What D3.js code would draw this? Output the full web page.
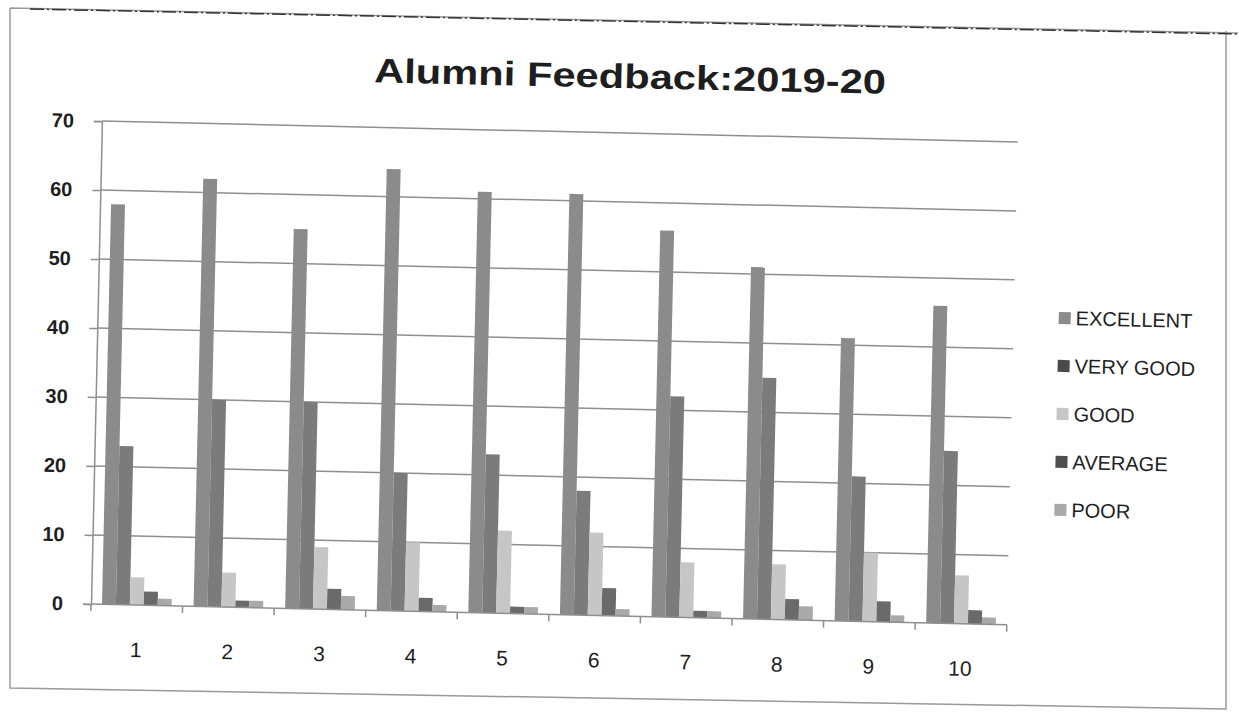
<!DOCTYPE html>
<html>
<head>
<meta charset="utf-8">
<script src="https://cdnjs.cloudflare.com/ajax/libs/d3/7.8.5/d3.min.js"></script>
<style>
  body { margin: 0; background: #fff; }
  text { font-family: "Liberation Sans", Arial, sans-serif; fill: #1e1e1e; }
</style>
</head>
<body>
<div id="chart"></div>
<script>
// Data
var categories = ["1", "2", "3", "4", "5", "6", "7", "8", "9", "10"];
var seriesNames = ["EXCELLENT", "VERY GOOD", "GOOD", "AVERAGE", "POOR"];
var excellent = [58, 62, 55, 64, 61, 61, 56, 51, 41, 46];
var veryGood  = [23, 30, 30, 20, 23, 18, 32, 35, 21, 25];
var good      = [4, 5, 9, 10, 12, 12, 8, 8, 10, 7];
var average   = [2, 1, 3, 2, 1, 4, 1, 3, 3, 2];
var poor      = [1, 1, 2, 1, 1, 1, 1, 2, 1, 1];
var yTicks = [0, 10, 20, 30, 40, 50, 60, 70];

var seriesValues = [excellent, veryGood, good, average, poor];
var colors = ["#8b8b8b", "#7b7b7b", "#c6c6c6", "#6a6a6a", "#a9a9a9"];
var legendColors = ["#8b8b8b", "#4a4a4a", "#c6c6c6", "#4f4f4f", "#a9a9a9"];

var svgWidth = 1239;
var svgHeight = 712;

// plot box (before the slight scan tilt is applied)
var margin = { top: 121, left: 91 };
var width = 916;
var height = 483;
var tilt = 1.3;

var svg = d3.select("#chart")
  .append("svg")
  .attr("width", svgWidth)
  .attr("height", svgHeight);

// page frame of the scan
svg.append("path")
  .attr("d", "M10,8 L1238,33 M10,8 L10,688 L1226,709 L1226,31")
  .attr("fill", "none")
  .attr("stroke", "#9a9a9a")
  .attr("stroke-width", 1.5);
svg.append("line")
  .attr("x1", 30).attr("y1", 9).attr("x2", 1238).attr("y2", 34)
  .attr("stroke", "#333")
  .attr("stroke-width", 1.5)
  .attr("stroke-dasharray", "14 3 2 3");

var page = svg.append("g")
  .attr("transform", `rotate(${tilt}, ${margin.left}, ${margin.top + height})`);

var chartGroup = page.append("g")
  .attr("transform", `translate(${margin.left}, ${margin.top})`);

// scales
var x0 = d3.scaleBand().domain(categories).range([0, width])
  .paddingInner(0.24).paddingOuter(0.12);
var xOuter = d3.scaleBand().domain(categories).range([0, width]);
var x1 = d3.scaleBand().domain(seriesNames).range([0, x0.bandwidth()]);
var y = d3.scaleLinear().domain([0, 70]).range([height, 0]);

// gridlines
chartGroup.append("g")
  .selectAll("line")
  .data(yTicks.slice(1))
  .enter()
  .append("line")
  .attr("x1", 0)
  .attr("x2", width)
  .attr("y1", d => y(d))
  .attr("y2", d => y(d))
  .attr("stroke", "#8f8f8f")
  .attr("stroke-width", 1.5);

// bars
var groups = chartGroup.selectAll(".grp")
  .data(categories)
  .enter()
  .append("g")
  .attr("class", "grp")
  .attr("transform", d => `translate(${x0(d)},0)`);

groups.selectAll("rect")
  .data((d, i) => seriesNames.map((s, k) => ({ s: s, v: seriesValues[k][i], k: k })))
  .enter()
  .append("rect")
  .attr("x", d => x1(d.s))
  .attr("y", d => y(d.v))
  .attr("width", x1.bandwidth())
  .attr("height", d => height - y(d.v))
  .attr("fill", d => colors[d.k]);

// y axis
var laxis = d3.axisLeft(y).tickValues(yTicks).tickSize(8).tickPadding(20);
var yAxisG = chartGroup.append("g").call(laxis);
yAxisG.select(".domain").attr("stroke", "#8f8f8f").attr("stroke-width", 1.5);
yAxisG.selectAll(".tick line").attr("stroke", "#8f8f8f").attr("stroke-width", 1.5);
yAxisG.selectAll(".tick text")
  .style("font-size", "20px")
  .style("font-weight", "bold")
  .attr("fill", "#222");

// x axis: ticks between categories
var xAxisG = chartGroup.append("g")
  .attr("transform", `translate(0, ${height})`);
xAxisG.append("line")
  .attr("x1", 0).attr("x2", width)
  .attr("stroke", "#8f8f8f").attr("stroke-width", 1.5);
xAxisG.selectAll(".xt")
  .data(categories.concat(["end"]))
  .enter()
  .append("line")
  .attr("x1", (d, i) => i * xOuter.step())
  .attr("x2", (d, i) => i * xOuter.step())
  .attr("y1", 0).attr("y2", 7)
  .attr("stroke", "#8f8f8f").attr("stroke-width", 1.5);
xAxisG.selectAll(".xl")
  .data(categories)
  .enter()
  .append("text")
  .attr("x", d => x0(d) + x0.bandwidth() / 2)
  .attr("y", 52)
  .attr("text-anchor", "middle")
  .style("font-size", "21px")
  .text(d => d);

// title
page.append("text")
  .attr("x", 618)
  .attr("y", 76)
  .attr("text-anchor", "middle")
  .attr("textLength", 512)
  .attr("lengthAdjust", "spacingAndGlyphs")
  .style("font-size", "34px")
  .style("font-weight", "bold")
  .attr("fill", "#222")
  .text("Alumni Feedback:2019-20");

// legend
var legend = page.append("g").attr("transform", "translate(1052, 296)");
var items = legend.selectAll("g")
  .data(seriesNames)
  .enter()
  .append("g")
  .attr("transform", (d, i) => `translate(0, ${i * 48})`);
items.append("rect")
  .attr("x", 0).attr("y", -6)
  .attr("width", 12).attr("height", 12)
  .attr("fill", (d, i) => legendColors[i]);
items.append("text")
  .attr("x", 17)
  .attr("y", 7)
  .style("font-size", "20px")
  .text(d => d);
</script>
</body>
</html>
